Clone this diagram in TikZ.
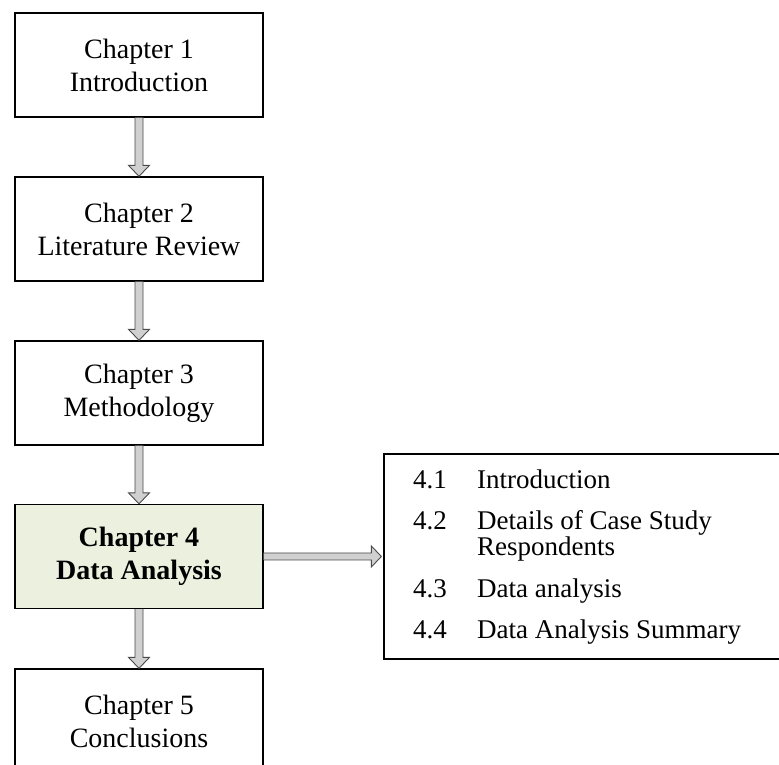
\documentclass[tikz,border=0pt]{standalone}
\usepackage{fontspec}
\setmainfont{Liberation Serif}
\usetikzlibrary{calc}
\definecolor{chapgreen}{HTML}{EBF1DE}
\definecolor{arrowgray}{HTML}{D0D0D0}
\definecolor{arrowline}{HTML}{4A4A4A}

% block arrow pointing down from the bottom of #1 to the top of #2
\newcommand{\flowdown}[2]{%
  \filldraw[flowarrow]
    ($(#1.south)+(-4,0)$) -- ($(#2.north)+(-4,11)$) -- ($(#2.north)+(-10.5,11)$)
    -- (#2.north) -- ($(#2.north)+(10.5,11)$) -- ($(#2.north)+(4,11)$)
    -- ($(#1.south)+(4,0)$);}
% block arrow pointing right from the side of #1 to the side of #2
\newcommand{\flowright}[2]{%
  \filldraw[flowarrow]
    ($(#1.east)+(0,3.5)$) -- ($(#2.west)+(-12,3.5)$) -- ($(#2.west)+(-12,10.5)$)
    -- ($(#2.west)+(-2,0)$) -- ($(#2.west)+(-12,-10.5)$) -- ($(#2.west)+(-12,-3.5)$)
    -- ($(#1.east)+(0,-3.5)$);}

\begin{document}
\begin{tikzpicture}[x=1pt,y=1pt,
  chapbox/.style={draw=black, line width=1.3pt, fill=white,
    minimum width=248, minimum height=104, inner sep=0,
    align=center, font=\fontsize{28}{33}\selectfont},
  listbox/.style={draw=black, line width=1.3pt, fill=white,
    minimum width=415, minimum height=205, inner sep=0},
  item/.style={anchor=base west, inner sep=0, font=\fontsize{27}{28}\selectfont},
  flowarrow/.style={fill=arrowgray, draw=arrowline, line width=0.9pt, line join=miter}
]
\useasboundingbox (0,0) rectangle (779,765);
\clip (0,0) rectangle (779,765);

% chapter sequence
\node[chapbox] (b1) at (139,700) {Chapter 1\\Introduction};
\node[chapbox] (b2) at (139,536) {Chapter 2\\Literature Review};
\node[chapbox] (b3) at (139,372) {Chapter 3\\Methodology};
\node[chapbox, fill=chapgreen, font=\fontsize{28}{33}\selectfont\bfseries] (b4) at (139,208.5) {Chapter 4\\Data Analysis};
\node[chapbox] (b5) at (139,44) {Chapter 5\\Conclusions};

% contents of chapter 4
\node[listbox] (rb) at (591.5,208.5) {};
\node[item] (n1) at (413,276) {4.1};
\node[item] (t1) at (477,276) {Introduction};
\node[item] (n2) at (413,235) {4.2};
\node[item] (t2) at (477,235) {Details of Case Study};
\node[item] (t2b) at (477,209) {Respondents};
\node[item] (n3) at (413,167) {4.3};
\node[item] (t3) at (477,167) {Data analysis};
\node[item] (n4) at (413,126) {4.4};
\node[item] (t4) at (477,126) {Data Analysis Summary};

% connectors
\flowdown{b1}{b2}
\flowdown{b2}{b3}
\flowdown{b3}{b4}
\flowdown{b4}{b5}
\flowright{b4}{rb}
\end{tikzpicture}
\end{document}
